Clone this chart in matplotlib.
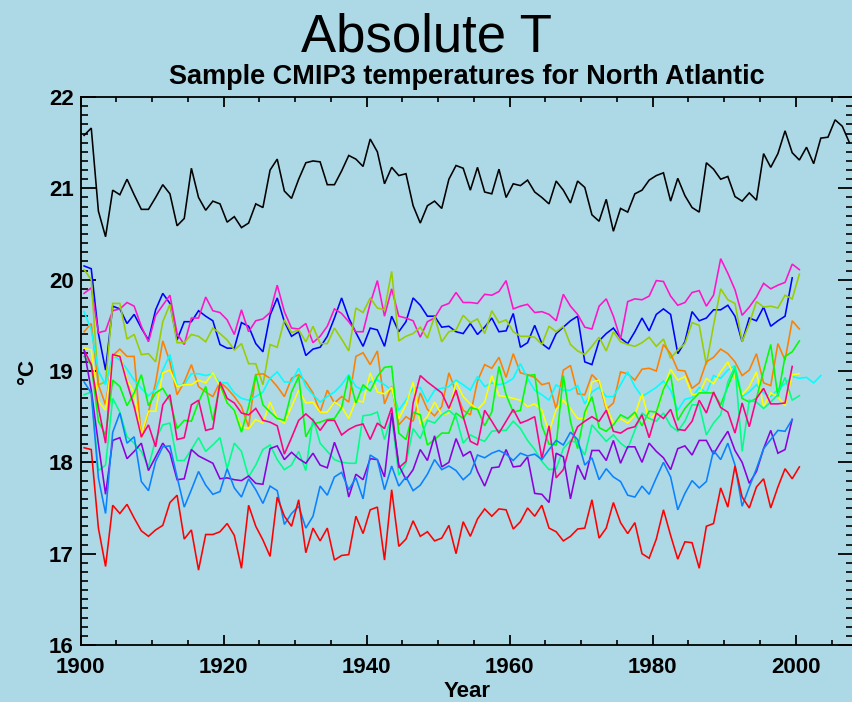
import numpy as np
import matplotlib
matplotlib.use("Agg")
import matplotlib.pyplot as plt
from matplotlib.ticker import MultipleLocator

plt.rcParams['font.family'] = ['Liberation Sans', 'DejaVu Sans']

START_YEAR = 1900

obs_black = [21.58, 21.66, 20.75, 20.47, 20.98, 20.93, 21.10, 20.93, 20.77, 20.77,
             20.90, 21.04, 20.94, 20.59, 20.67, 21.22, 20.90, 20.76, 20.86, 20.83,
             20.63, 20.69, 20.57, 20.62, 20.83, 20.79, 21.20, 21.32, 20.97, 20.89,
             21.10, 21.28, 21.30, 21.29, 21.04, 21.04, 21.19, 21.36, 21.32, 21.24,
             21.54, 21.40, 21.05, 21.23, 21.14, 21.16, 20.81, 20.62, 20.81, 20.86,
             20.78, 21.10, 21.25, 21.22, 20.98, 21.23, 20.96, 20.94, 21.21, 20.90,
             21.05, 21.03, 21.09, 20.96, 20.90, 20.83, 21.08, 20.98, 20.84, 21.08,
             21.01, 20.71, 20.64, 20.88, 20.53, 20.78, 20.74, 20.94, 20.98, 21.09,
             21.14, 21.17, 20.86, 21.11, 20.92, 20.79, 20.74, 21.28, 21.21, 21.10,
             21.13, 20.91, 20.86, 20.95, 20.87, 21.38, 21.23, 21.38, 21.63, 21.39,
             21.31, 21.45, 21.27, 21.55, 21.56, 21.75, 21.68, 21.50]

model_blue = [20.15, 20.12, 19.41, 19.01, 19.71, 19.68, 19.52, 19.62, 19.47, 19.34,
              19.67, 19.85, 19.74, 19.34, 19.54, 19.54, 19.66, 19.60, 19.55, 19.29,
              19.25, 19.25, 19.53, 19.49, 19.30, 19.21, 19.61, 19.80, 19.54, 19.38,
              19.43, 19.17, 19.24, 19.26, 19.38, 19.58, 19.80, 19.58, 19.42, 19.27,
              19.47, 19.45, 19.27, 19.60, 19.43, 19.54, 19.80, 19.72, 19.60, 19.60,
              19.48, 19.49, 19.43, 19.41, 19.52, 19.40, 19.48, 19.58, 19.43, 19.44,
              19.63, 19.26, 19.31, 19.50, 19.30, 19.24, 19.41, 19.48, 19.55, 19.60,
              19.10, 19.07, 19.33, 19.41, 19.47, 19.36, 19.30, 19.43, 19.58, 19.44,
              19.62, 19.68, 19.62, 19.19, 19.32, 19.65, 19.55, 19.58, 19.67, 19.67,
              19.72, 19.60, 19.32, 19.58, 19.55, 19.70, 19.49, 19.55, 19.60, 20.02]

model_magenta = [19.85, 19.91, 19.42, 19.44, 19.66, 19.68, 19.75, 19.71, 19.49, 19.32,
                 19.61, 19.72, 19.83, 19.41, 19.29, 19.58, 19.58, 19.81, 19.66, 19.64,
                 19.56, 19.40, 19.67, 19.43, 19.55, 19.57, 19.64, 19.94, 19.65, 19.47,
                 19.46, 19.52, 19.31, 19.38, 19.49, 19.68, 19.63, 19.54, 19.43, 19.43,
                 19.74, 19.99, 19.60, 19.90, 19.60, 19.58, 19.55, 19.37, 19.54, 19.58,
                 19.71, 19.74, 19.86, 19.75, 19.75, 19.74, 19.84, 19.83, 19.87, 19.99,
                 19.68, 19.71, 19.73, 19.64, 19.65, 19.62, 19.55, 19.84, 19.71, 19.62,
                 19.48, 19.46, 19.71, 19.79, 19.60, 19.35, 19.76, 19.79, 19.78, 19.82,
                 19.99, 19.98, 19.82, 19.72, 19.75, 19.86, 19.88, 19.71, 19.83, 20.23,
                 20.07, 19.89, 19.61, 19.70, 19.81, 19.96, 19.90, 19.94, 19.97, 20.17, 20.11]

model_yellowgreen = [20.11, 20.00, 18.85, 18.88, 19.74, 19.74, 19.35, 19.40, 19.18, 19.19,
                     19.10, 19.54, 19.73, 19.31, 19.31, 19.40, 19.38, 19.32, 19.47, 19.41,
                     19.34, 19.23, 19.30, 19.08, 19.08, 18.85, 19.29, 19.26, 19.56, 19.42,
                     19.45, 19.32, 19.49, 19.30, 19.30, 19.47, 19.35, 19.22, 19.69, 19.64,
                     19.80, 19.69, 19.67, 20.09, 19.33, 19.38, 19.41, 19.48, 19.36, 19.60,
                     19.32, 19.43, 19.45, 19.61, 19.53, 19.57, 19.41, 19.66, 19.53, 19.56,
                     19.43, 19.38, 19.38, 19.37, 19.29, 19.49, 19.43, 19.49, 19.29, 19.22,
                     19.18, 19.27, 19.37, 19.22, 19.43, 19.32, 19.29, 19.27, 19.31, 19.37,
                     19.27, 19.35, 19.14, 19.23, 19.30, 19.53, 19.50, 19.07, 19.50, 19.90,
                     19.78, 19.74, 19.32, 19.52, 19.76, 19.70, 19.71, 19.69, 19.83, 19.79, 20.06]

model_orange = [19.43, 19.52, 18.85, 18.63, 19.17, 19.24, 19.16, 19.16, 18.27, 18.55,
                18.87, 19.33, 19.10, 18.74, 18.88, 19.07, 18.83, 18.77, 18.72, 18.88,
                18.81, 18.72, 18.61, 18.39, 18.96, 18.97, 18.92, 18.83, 18.72, 18.92,
                18.96, 18.88, 18.76, 18.55, 18.79, 18.65, 18.72, 18.66, 19.16, 19.20,
                19.07, 19.22, 18.64, 18.83, 18.41, 18.50, 18.45, 18.76, 18.58, 18.51,
                18.61, 18.98, 18.77, 18.57, 18.52, 18.89, 19.07, 19.03, 19.15, 18.93,
                19.19, 18.98, 18.96, 18.93, 18.85, 18.87, 18.58, 19.01, 19.06, 18.75,
                18.74, 18.96, 18.88, 18.58, 18.65, 18.99, 18.97, 18.90, 19.02, 19.03,
                19.00, 19.29, 19.19, 19.01, 19.00, 18.81, 18.87, 19.10, 19.15, 19.24,
                19.19, 19.10, 18.95, 19.01, 19.19, 18.87, 18.84, 19.30, 19.12, 19.55, 19.46]

model_cyan = [19.65, 19.45, 19.00, 18.85, 19.17, 19.12, 19.02, 18.90, 18.81, 18.73,
              18.80, 19.01, 19.18, 18.84, 18.85, 18.97, 18.97, 18.95, 18.97, 18.87,
              18.87, 18.76, 18.70, 18.68, 18.72, 18.77, 18.92, 18.99, 18.88, 18.88,
              19.03, 18.83, 18.74, 18.66, 18.72, 18.77, 18.85, 18.96, 18.83, 18.79,
              18.88, 18.90, 18.85, 18.79, 18.57, 18.68, 18.81, 18.82, 18.66, 18.79,
              18.81, 18.83, 18.90, 18.85, 18.79, 18.94, 18.83, 18.87, 18.85, 18.87,
              18.92, 19.08, 18.92, 18.79, 18.74, 18.68, 18.85, 18.79, 18.79, 18.84,
              18.64, 18.77, 18.82, 18.72, 18.72, 18.85, 18.99, 18.83, 18.72, 18.77,
              18.82, 18.89, 18.79, 18.57, 18.69, 18.71, 18.82, 18.76, 18.95, 18.92,
              19.01, 19.06, 18.72, 18.77, 18.85, 18.76, 18.72, 18.80, 18.86, 18.94,
              18.92, 18.93, 18.87, 18.95]

model_yellow = [19.25, 19.23, 18.67, 18.57, 19.16, 19.18, 18.90, 18.76, 18.30, 18.56,
                18.56, 18.98, 19.01, 18.83, 18.85, 18.85, 18.90, 18.87, 18.98, 18.83,
                18.65, 18.57, 18.39, 18.37, 18.47, 18.43, 18.66, 18.48, 18.43, 18.61,
                18.79, 18.65, 18.66, 18.55, 18.55, 18.66, 18.61, 18.48, 18.68, 18.66,
                18.98, 18.77, 18.75, 18.82, 18.48, 18.63, 18.88, 18.42, 18.50, 18.66,
                18.52, 18.54, 18.88, 18.72, 18.64, 18.58, 18.66, 18.95, 18.73, 18.72,
                18.70, 18.68, 18.61, 18.64, 18.57, 18.33, 18.58, 18.68, 18.59, 18.48,
                18.48, 18.88, 18.90, 18.61, 18.43, 18.48, 18.43, 18.52, 18.75, 18.46,
                18.54, 18.80, 19.02, 18.90, 18.94, 18.74, 18.75, 18.92, 18.86, 18.99,
                19.10, 18.92, 18.74, 18.83, 18.99, 18.61, 18.76, 18.72, 18.62, 18.96, 18.97]

model_green = [19.16, 19.07, 18.45, 18.30, 18.90, 18.83, 18.62, 18.76, 18.96, 18.62,
               18.76, 18.81, 18.68, 18.37, 18.46, 18.45, 18.66, 18.83, 18.46, 18.85,
               18.65, 18.57, 18.33, 18.61, 18.96, 18.63, 18.55, 18.48, 18.46, 18.77,
               18.94, 18.28, 18.42, 18.44, 18.47, 18.48, 18.60, 18.95, 18.65, 18.85,
               18.78, 18.94, 19.04, 19.05, 18.32, 18.25, 18.55, 18.52, 18.19, 18.25,
               18.32, 18.32, 18.54, 18.48, 18.60, 18.58, 18.40, 18.55, 19.05, 18.74,
               18.55, 18.57, 18.95, 18.96, 18.40, 18.20, 18.19, 18.95, 18.45, 18.15,
               18.55, 18.72, 18.38, 18.34, 18.41, 18.52, 18.48, 18.55, 18.40, 18.56,
               18.55, 18.80, 18.96, 18.46, 18.59, 18.68, 18.76, 18.76, 18.76, 18.63,
               18.83, 19.02, 18.70, 18.66, 18.70, 19.00, 19.29, 18.72, 19.16, 19.21, 19.33]

model_springgreen = [18.74, 18.77, 17.91, 17.97, 18.70, 18.55, 18.28, 18.21, 18.12, 17.95,
                     18.25, 18.41, 18.43, 18.02, 18.02, 18.14, 18.27, 18.12, 18.19, 18.27,
                     17.93, 18.21, 18.12, 17.84, 17.97, 18.14, 18.19, 18.03, 17.92, 17.97,
                     18.12, 17.91, 18.48, 18.21, 18.12, 18.03, 18.00, 17.99, 17.99, 18.51,
                     18.52, 18.55, 18.25, 18.50, 17.86, 17.99, 18.37, 18.26, 18.46, 18.43,
                     18.52, 18.57, 18.50, 18.21, 18.30, 18.26, 18.23, 18.34, 18.35, 18.35,
                     18.45, 18.37, 18.24, 18.14, 18.01, 17.92, 17.93, 18.15, 18.24, 18.21,
                     18.08, 18.41, 18.32, 18.23, 18.30, 18.21, 18.15, 18.35, 18.54, 18.48,
                     18.45, 18.54, 18.40, 18.34, 18.45, 18.63, 18.63, 18.30, 18.43, 18.52,
                     18.88, 19.05, 18.12, 18.68, 18.66, 18.59, 18.66, 18.74, 18.93, 18.68, 18.73]

model_pink = [19.23, 19.07, 18.60, 18.21, 19.18, 19.16, 18.87, 18.61, 18.28, 18.41,
              18.17, 18.63, 18.74, 18.25, 18.27, 18.63, 18.68, 18.35, 18.37, 18.88,
              18.70, 18.65, 18.54, 18.52, 18.59, 18.46, 18.44, 18.40, 18.09, 18.27,
              18.46, 18.53, 18.46, 18.35, 18.46, 18.46, 18.30, 18.36, 18.40, 18.42,
              18.25, 18.43, 18.37, 18.60, 17.94, 18.01, 18.65, 18.95, 18.88, 18.82,
              18.76, 18.59, 18.79, 18.50, 18.23, 18.19, 18.57, 18.45, 18.32, 18.45,
              18.58, 18.43, 18.46, 18.50, 18.04, 18.40, 17.83, 17.92, 18.21, 18.39,
              18.45, 18.50, 18.45, 18.57, 18.34, 18.32, 18.37, 18.39, 18.52, 18.27,
              18.54, 18.48, 18.58, 18.36, 18.35, 18.45, 18.68, 18.54, 18.77, 18.60,
              18.55, 18.32, 18.65, 18.39, 18.70, 18.81, 18.64, 18.64, 18.65, 19.05]

model_purple = [19.23, 18.79, 18.20, 17.65, 18.24, 18.27, 18.04, 18.12, 18.21, 17.91,
                18.06, 18.21, 18.10, 17.81, 17.82, 18.14, 18.07, 18.03, 17.99, 17.82,
                17.83, 17.81, 17.80, 17.85, 17.77, 17.76, 18.15, 18.18, 18.03, 18.11,
                18.04, 17.99, 18.10, 17.97, 17.94, 18.22, 18.01, 17.62, 17.87, 17.81,
                18.04, 18.03, 17.84, 18.54, 17.97, 17.81, 17.92, 18.14, 18.02, 18.29,
                17.95, 18.00, 18.26, 18.07, 18.12, 17.90, 17.74, 17.94, 17.95, 18.14,
                17.95, 17.96, 18.06, 17.66, 17.65, 17.56, 18.10, 18.06, 17.60, 17.97,
                17.81, 18.13, 18.13, 18.02, 18.24, 17.99, 18.17, 18.17, 18.00, 18.21,
                18.12, 18.05, 17.92, 18.15, 18.18, 18.08, 18.24, 18.24, 18.09, 18.22,
                18.34, 18.13, 18.00, 17.77, 17.90, 18.15, 18.35, 18.10, 18.14, 18.47]

model_dodgerblue = [18.88, 18.76, 17.83, 17.44, 18.33, 18.54, 18.21, 18.28, 17.79, 17.69,
                    18.01, 18.17, 18.18, 17.84, 17.51, 17.70, 17.90, 17.75, 17.65, 17.68,
                    17.93, 17.72, 17.62, 17.82, 17.70, 17.55, 17.74, 17.69, 17.32, 17.44,
                    17.52, 17.28, 17.41, 17.74, 17.64, 17.84, 17.89, 17.70, 17.83, 17.60,
                    18.08, 18.03, 17.70, 17.96, 17.74, 17.84, 17.69, 17.75, 17.87, 18.03,
                    17.92, 17.96, 17.91, 17.81, 17.88, 18.08, 18.05, 18.10, 18.13, 18.09,
                    18.02, 18.10, 18.07, 18.09, 18.03, 18.14, 18.24, 18.19, 18.33, 18.25,
                    17.97, 18.05, 17.81, 17.93, 17.84, 17.79, 17.64, 17.62, 17.74, 17.65,
                    17.83, 18.00, 17.84, 17.48, 17.66, 17.80, 17.72, 17.79, 18.13, 18.03,
                    18.21, 17.97, 17.52, 17.73, 17.93, 18.15, 18.25, 18.35, 18.34, 18.47]

model_red = [18.16, 18.14, 17.28, 16.86, 17.53, 17.44, 17.54, 17.39, 17.25, 17.19,
             17.26, 17.31, 17.56, 17.64, 17.16, 17.26, 16.82, 17.21, 17.21, 17.24,
             17.33, 17.20, 16.84, 17.53, 17.30, 17.15, 16.97, 17.62, 17.41, 17.30,
             17.59, 17.01, 17.28, 17.14, 17.28, 16.93, 16.98, 16.99, 17.41, 17.22,
             17.48, 17.51, 16.93, 17.70, 17.08, 17.16, 17.36, 17.19, 17.24, 17.14,
             17.17, 17.31, 17.00, 17.35, 17.19, 17.38, 17.49, 17.41, 17.49, 17.48,
             17.27, 17.35, 17.50, 17.41, 17.53, 17.28, 17.24, 17.14, 17.19, 17.27,
             17.28, 17.59, 17.17, 17.28, 17.56, 17.34, 17.22, 17.34, 17.00, 16.95,
             17.16, 17.48, 17.20, 16.94, 17.13, 17.12, 16.84, 17.30, 17.33, 17.72,
             17.51, 17.96, 17.62, 17.50, 17.73, 17.82, 17.50, 17.73, 17.93, 17.82, 17.95]

series = [
    (obs_black, '#000000'),
    (model_blue, '#0000ff'),
    (model_magenta, '#ff14c8'),
    (model_yellowgreen, '#9acd00'),
    (model_orange, '#ff8000'),
    (model_cyan, '#00ffff'),
    (model_yellow, '#ffff00'),
    (model_green, '#00ff00'),
    (model_springgreen, '#00ff88'),
    (model_pink, '#ff0080'),
    (model_purple, '#8c00dc'),
    (model_dodgerblue, '#0a82ff'),
    (model_red, '#ff0000'),
]

BG = '#add8e6'
fig = plt.figure(figsize=(8.53, 7.02), dpi=100, facecolor=BG)
ax = fig.add_axes([0.0944, 0.0812, 0.9056, 0.7806], facecolor=BG)

for vals, col in series:
    yrs = START_YEAR + np.arange(len(vals)) + 0.5
    ax.plot(yrs, vals, color=col, lw=1.15, solid_joinstyle='miter')

ax.set_xlim(1900, 2008)
ax.set_ylim(16, 22)
ax.xaxis.set_major_locator(MultipleLocator(20))
ax.xaxis.set_minor_locator(MultipleLocator(5))
ax.yaxis.set_major_locator(MultipleLocator(1))
ax.yaxis.set_minor_locator(MultipleLocator(0.1))

ax.tick_params(axis='x', which='major', direction='in', length=7.5, width=1.3,
               top=True, bottom=True, labelsize=16, pad=9)
ax.tick_params(axis='x', which='minor', direction='in', length=3.5, width=1.2,
               top=True, bottom=True)
ax.tick_params(axis='y', which='major', direction='in', length=10.5, width=1.3,
               left=True, right=True, labelsize=16, pad=5)
ax.tick_params(axis='y', which='minor', direction='in', length=5, width=1.2,
               left=True, right=True)
for lab in ax.get_xticklabels() + ax.get_yticklabels():
    lab.set_fontweight('bold')
for sp in ax.spines.values():
    sp.set_linewidth(1.3)

ax.set_xlabel('Year', fontsize=16, fontweight='bold', labelpad=2)
ax.set_ylabel('°C', fontsize=16, fontweight='bold', labelpad=8)

fig.text(0.5, 1 - 52 / 702, 'Absolute T', ha='center', va='baseline', fontsize=38)
fig.text(467 / 853, 1 - 84 / 702, 'Sample CMIP3 temperatures for North Atlantic',
         ha='center', va='baseline', fontsize=19.5, fontweight='bold')

fig.savefig('out.png', dpi=100, facecolor=BG)
